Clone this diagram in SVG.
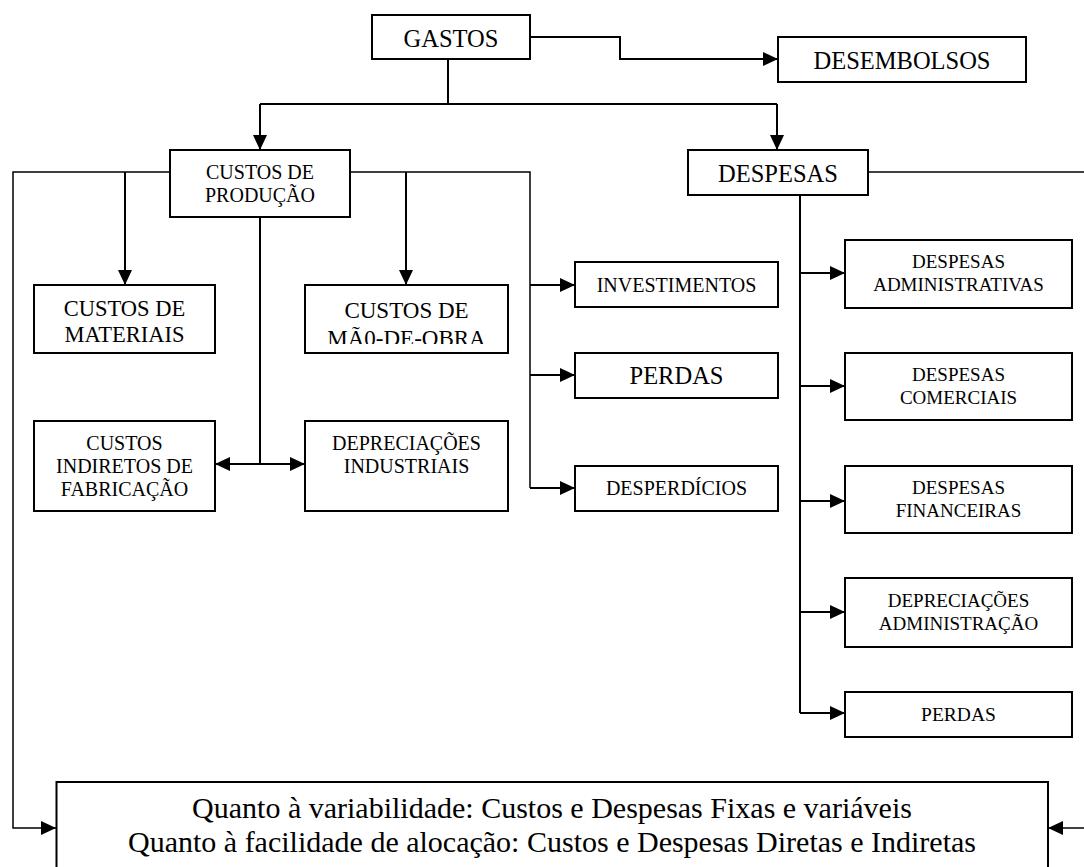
<svg xmlns="http://www.w3.org/2000/svg" width="1084" height="867" viewBox="0 0 1084 867" font-family="'Liberation Serif', 'DejaVu Serif', serif">
  <style>
    .box { fill: #fff; stroke: #000; stroke-width: 2; }
    .t { font-family: 'Liberation Serif', 'DejaVu Serif', serif; fill: #000; text-anchor: middle; }
    .l { font-size: 24.5px; }
    .m { font-size: 22.5px; }
    .s { font-size: 20px; }
    .xs { font-size: 19px; }
    .xl { font-size: 30px; }
    .c { fill: none; stroke: #000; stroke-width: 2; }
    .c2 { fill: none; stroke: #000; stroke-width: 1.5; }
    .a { marker-end: url(#arr); }
  </style>
  <defs>
    <marker id="arr" markerUnits="userSpaceOnUse" markerWidth="16" markerHeight="14" refX="15" refY="7" orient="auto">
      <path d="M0,0 L15,7 L0,14 Z" fill="#000"/>
    </marker>
    <clipPath id="clipMao">
      <rect x="305" y="285" width="203" height="59"/>
    </clipPath>
  </defs>
  <rect width="1084" height="867" fill="#fff"/>

  <g id="connectors">
    <polyline class="c a" points="530,37 620,37 620,59 778,59"/>
    <line class="c" x1="448" y1="59" x2="448" y2="104"/>
    <line class="c" x1="260" y1="104" x2="777" y2="104"/>
    <line class="c a" x1="260" y1="104" x2="260" y2="150"/>
    <line class="c a" x1="777" y1="104" x2="777" y2="150"/>
    <polyline class="c2 a" points="170,172 13,172 13,828 56,828"/>
    <line class="c a" x1="125" y1="172" x2="125" y2="285"/>
    <polyline class="c2" points="350,172 530,172 530,488"/>
    <line class="c a" x1="406" y1="172" x2="406" y2="285"/>
    <line class="c a" x1="530" y1="285" x2="575" y2="285"/>
    <line class="c a" x1="530" y1="375" x2="575" y2="375"/>
    <line class="c a" x1="530" y1="488" x2="575" y2="488"/>
    <line class="c" x1="260" y1="217" x2="260" y2="464"/>
    <line class="c a" x1="260" y1="464" x2="215" y2="464"/>
    <line class="c a" x1="260" y1="464" x2="305" y2="464"/>
    <line class="c2" x1="868" y1="172" x2="1084" y2="172"/>
    <line class="c" x1="800" y1="195" x2="800" y2="713"/>
    <line class="c a" x1="800" y1="273" x2="845" y2="273"/>
    <line class="c a" x1="800" y1="386" x2="845" y2="386"/>
    <line class="c a" x1="800" y1="501" x2="845" y2="501"/>
    <line class="c a" x1="800" y1="612" x2="845" y2="612"/>
    <line class="c a" x1="800" y1="713" x2="845" y2="713"/>
    <line class="c2 a" x1="1084" y1="828" x2="1048" y2="828"/>
  </g>

  <g id="gastos">
    <rect class="box" x="372" y="15" width="158" height="44"/>
    <text class="t l" x="451" y="46.5">GASTOS</text>
  </g>
  <g id="desembolsos">
    <rect class="box" x="778" y="37" width="248" height="45"/>
    <text class="t l" x="902" y="68.5">DESEMBOLSOS</text>
  </g>
  <g id="custos-producao">
    <rect class="box" x="170" y="150" width="180" height="67"/>
    <text class="t s" x="260" y="179">CUSTOS DE</text>
    <text class="t s" x="260" y="202">PRODUÇÃO</text>
  </g>
  <g id="despesas">
    <rect class="box" x="688" y="150" width="180" height="45"/>
    <text class="t l" x="778" y="181.5">DESPESAS</text>
  </g>
  <g id="custos-materiais">
    <rect class="box" x="34" y="285" width="181" height="68"/>
    <text class="t m" x="124.5" y="316">CUSTOS DE</text>
    <text class="t m" x="124.5" y="342">MATERIAIS</text>
  </g>
  <g id="custos-mao-de-obra">
    <rect class="box" x="305" y="285" width="203" height="68"/>
    <g clip-path="url(#clipMao)">
      <text class="t" style="font-size:23px" x="406.5" y="318">CUSTOS DE</text>
      <text class="t" style="font-size:23px" x="406.5" y="346">MÃ0-DE-OBRA</text>
    </g>
  </g>
  <g id="custos-indiretos">
    <rect class="box" x="34" y="421" width="181" height="90"/>
    <text class="t s" x="124.5" y="450">CUSTOS</text>
    <text class="t s" x="124.5" y="473">INDIRETOS DE</text>
    <text class="t s" x="124.5" y="496">FABRICAÇÃO</text>
  </g>
  <g id="depreciacoes-industriais">
    <rect class="box" x="305" y="421" width="203" height="90"/>
    <text class="t s" x="406.5" y="450">DEPRECIAÇÕES</text>
    <text class="t s" x="406.5" y="473">INDUSTRIAIS</text>
  </g>
  <g id="investimentos">
    <rect class="box" x="575" y="262" width="203" height="45"/>
    <text class="t s" x="676.5" y="291.5">INVESTIMENTOS</text>
  </g>
  <g id="perdas">
    <rect class="box" x="575" y="353" width="203" height="45"/>
    <text class="t l" x="676.5" y="384">PERDAS</text>
  </g>
  <g id="desperdicios">
    <rect class="box" x="575" y="466" width="203" height="45"/>
    <text class="t s" x="676.5" y="495">DESPERDÍCIOS</text>
  </g>
  <g id="despesas-administrativas">
    <rect class="box" x="845" y="240" width="227" height="68"/>
    <text class="t xs" x="958.5" y="268">DESPESAS</text>
    <text class="t xs" x="958.5" y="291">ADMINISTRATIVAS</text>
  </g>
  <g id="despesas-comerciais">
    <rect class="box" x="845" y="353" width="227" height="67"/>
    <text class="t xs" x="958.5" y="381">DESPESAS</text>
    <text class="t xs" x="958.5" y="404">COMERCIAIS</text>
  </g>
  <g id="despesas-financeiras">
    <rect class="box" x="845" y="466" width="227" height="67"/>
    <text class="t xs" x="958.5" y="494">DESPESAS</text>
    <text class="t xs" x="958.5" y="517">FINANCEIRAS</text>
  </g>
  <g id="depreciacoes-administracao">
    <rect class="box" x="845" y="578" width="227" height="69"/>
    <text class="t xs" x="958.5" y="607">DEPRECIAÇÕES</text>
    <text class="t xs" x="958.5" y="630">ADMINISTRAÇÃO</text>
  </g>
  <g id="perdas-despesas">
    <rect class="box" x="845" y="692" width="227" height="45"/>
    <text class="t" style="font-size:19.5px" x="958.5" y="720.5">PERDAS</text>
  </g>
  <g id="classificacao">
    <rect class="box" x="56.5" y="782" width="991.5" height="100"/>
    <text class="t xl" x="552" y="818">Quanto à variabilidade: Custos e Despesas Fixas e variáveis</text>
    <text class="t xl" x="552" y="852">Quanto à facilidade de alocação: Custos e Despesas Diretas e Indiretas</text>
  </g>
</svg>
